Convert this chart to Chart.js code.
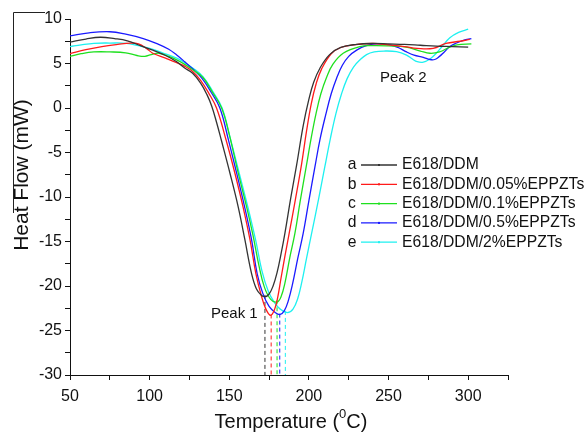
<!DOCTYPE html>
<html>
<head>
<meta charset="utf-8">
<script src="https://cdn.jsdelivr.net/npm/chart.js@4.4.1/dist/chart.umd.min.js"></script>
<style>
  html, body { margin: 0; padding: 0; background: #fff; }
  #wrap { width: 585px; height: 432px; }
</style>
</head>
<body>
<div id="wrap"><canvas id="dsc"></canvas></div>
<script>
// DSC curves, temperature (C) vs heat flow (mW)
const seriesTags = ['a', 'b', 'c', 'd', 'e'];
const seriesNames = ['E618/DDM', 'E618/DDM/0.05%EPPZTs', 'E618/DDM/0.1%EPPZTs', 'E618/DDM/0.5%EPPZTs', 'E618/DDM/2%EPPZTs'];
const seriesColors = ['#333333', '#ff1a1a', '#1ee01e', '#1a1aff', '#1ef0f0'];

const tempA = [50,60,69,78,86,95,102,110,117,122,127,132,136,139,142,145,150.4,155.6,159.8,164,167,170,172.5,175,177.5,180,182.5,185,188.5,192.3,196.4,200,203,207,213,220,230,240,250,260,270,280,290,300];
const flowA = [7.4,7.75,7.95,7.8,7.55,6.95,6.5,5.9,5.2,4.5,3.9,2.8,1.5,0.2,-1.6,-3.6,-7.3,-11.1,-14.8,-18.6,-20.3,-21.0,-21.2,-20.9,-20.0,-18.5,-16.4,-14.0,-10.2,-6.4,-2.0,1.0,2.9,4.5,6.0,6.8,7.15,7.25,7.2,7.15,7.05,6.95,6.9,6.85];

const tempB = [50,60,70,80,88,93,98,102,110,117,122,127,132,137,142,148,153.5,158.5,163,166.7,170,173,176,178.5,180.5,182.5,185,187.6,191.5,195.4,198.5,201.5,204.5,208,214,220,228,240,250,260,268,278,286,295,301];
const flowB = [6.1,6.55,6.9,7.15,7.3,7.2,6.7,6.15,5.6,5.1,4.7,4.1,3.1,1.7,0.0,-3.6,-7.3,-11.0,-14.8,-18.6,-21.0,-22.6,-23.3,-22.6,-21.2,-19.1,-16.6,-14.1,-10.3,-6.3,-2.6,0.5,2.7,4.4,6.1,6.8,7.1,7.25,7.1,6.9,6.7,6.7,7.25,7.5,7.7];

const tempC = [50,57,65,75,85,92,97,101,106,112,117,122,127,133.6,139,145.2,150,155.6,161,165,168.5,172,176,180,182.5,184.9,188,191.2,194.5,198.5,201.5,204.5,207.5,211,215,221.5,232,240,250,261,270,276,282,288,293,302];
const flowC = [5.8,6.1,6.3,6.3,6.2,5.9,5.8,6.0,6.15,5.8,5.4,4.9,4.3,3.4,1.9,0.0,-3.0,-7.3,-11.2,-14.4,-17.6,-20.1,-21.5,-21.8,-21.2,-19.7,-16.8,-14.1,-10.5,-6.4,-3.3,-0.6,1.6,3.4,4.9,6.15,6.9,7.0,6.97,6.85,6.4,6.15,6.3,6.8,7.1,7.2];

const tempD = [50,62,75,85,96,105,112,117,122,127,133,138.5,144.1,149.5,154.6,159.5,164,167.5,171,175,179,182,184.5,187,189.7,193,196.4,200,203.8,207,210.5,214,217.5,221,225,230,236,242.5,250.8,256,261.3,266,271.8,276,279,282,285,288.5,292.7,297,302];
const flowD = [8.1,8.45,8.57,8.3,7.8,7.2,6.6,5.95,5.2,4.4,3.3,1.8,0.0,-3.6,-7.3,-11.0,-14.8,-18.6,-20.8,-22.3,-23.0,-23.2,-22.8,-21.7,-19.8,-16.9,-14.1,-10.4,-6.6,-3.5,-0.8,1.6,3.4,4.8,5.8,6.5,7.0,7.2,7.1,6.8,6.3,5.95,5.7,5.45,5.45,5.8,6.3,6.9,7.3,7.6,7.8];

const tempE = [50,57,65,75,85.5,93,100,108,117,122,127,133.6,139.5,145.5,150.5,156.2,161.5,166.5,170.5,174.5,178.5,182,186.5,190,193,195.5,198.5,201.7,206,210,213.5,217,220.5,224,228,232,236.2,241,247,255,261.3,265,268,271.8,276,280,284,288.5,294,300];
const flowE = [6.9,7.1,7.27,7.3,7.27,7.0,6.7,6.2,5.6,5.1,4.5,3.5,1.9,0.0,-3.3,-7.3,-11.0,-14.8,-18.3,-20.6,-21.9,-22.6,-23.0,-22.6,-21.4,-19.6,-16.9,-14.1,-10.3,-6.6,-3.4,-0.6,1.6,3.3,4.6,5.4,6.0,6.3,6.4,6.33,5.95,5.5,5.2,5.15,5.5,6.15,7.0,7.9,8.5,8.85];

// Peak 1 position of each curve (dashed drop lines)
const peakTemps = [172.4, 176.3, 180.0, 181.7, 185.2];
const peakFlows = [-21.0, -23.2, -21.6, -23.1, -22.8];

const temps = [tempA, tempB, tempC, tempD, tempE];
const flows = [flowA, flowB, flowC, flowD, flowE];

const FONT = "'Liberation Sans', Arial, sans-serif";

function pts(xs, ys) {
  return xs.map((x, i) => ({ x: x, y: ys[i] }));
}

const datasets = [];
for (let i = 0; i < 5; i++) {
  datasets.push({
    label: seriesNames[i],
    data: pts(temps[i], flows[i]),
    borderColor: seriesColors[i],
    borderWidth: 1.3,
    pointRadius: 0,
    tension: 0.4,
    fill: false
  });
}
for (let i = 0; i < 5; i++) {
  datasets.push({
    label: 'peak-' + seriesTags[i],
    data: [{ x: peakTemps[i], y: peakFlows[i] }, { x: peakTemps[i], y: -30 }],
    borderColor: seriesColors[i],
    borderWidth: 1,
    borderDash: [4, 3],
    pointRadius: 0,
    fill: false
  });
}

const annotate = {
  id: 'annotate',
  afterDraw(chart) {
    const ctx = chart.ctx;
    ctx.save();
    ctx.fillStyle = '#111';
    ctx.textBaseline = 'middle';

    // legend
    ctx.font = '15.7px ' + FONT;
    for (let i = 0; i < 5; i++) {
      const y = 165 + i * 19.3;
      ctx.fillStyle = '#111';
      ctx.textAlign = 'center';
      ctx.fillText(seriesTags[i], 352, y);
      ctx.strokeStyle = seriesColors[i];
      ctx.lineWidth = 1.3;
      ctx.beginPath();
      ctx.moveTo(361, y);
      ctx.lineTo(397, y);
      ctx.stroke();
      ctx.fillStyle = seriesColors[i];
      ctx.fillRect(378, y - 1, 2, 2);
      ctx.fillStyle = '#111';
      ctx.textAlign = 'left';
      ctx.fillText(seriesNames[i], 402, y);
    }

    // peak labels
    ctx.font = '15px ' + FONT;
    ctx.fillText('Peak 1', 211, 314);
    ctx.fillText('Peak 2', 380, 78);

    // x title with superscript
    ctx.font = '20px ' + FONT;
    const a = 'Temperature (', c = 'C)';
    const wa = ctx.measureText(a).width;
    ctx.font = '13px ' + FONT;
    const ws = ctx.measureText('0').width;
    ctx.font = '20px ' + FONT;
    const wc = ctx.measureText(c).width;
    let x0 = 291 - (wa + ws + wc) / 2;
    ctx.textBaseline = 'alphabetic';
    ctx.fillText(a, x0, 428);
    ctx.font = '13px ' + FONT;
    ctx.fillText('0', x0 + wa, 418);
    ctx.font = '20px ' + FONT;
    ctx.fillText(c, x0 + wa + ws, 428);

    // y title
    ctx.translate(22, 175);
    ctx.rotate(-Math.PI / 2);
    ctx.textAlign = 'center';
    ctx.textBaseline = 'middle';
    ctx.font = '21px ' + FONT;
    ctx.fillText('Heat Flow (mW)', 0, 0);
    ctx.restore();

    // crop bracket at top-left of the figure
    ctx.save();
    ctx.strokeStyle = '#222';
    ctx.lineWidth = 1;
    ctx.beginPath();
    ctx.moveTo(13.5, 213);
    ctx.lineTo(13.5, 12.5);
    ctx.lineTo(45, 12.5);
    ctx.stroke();
    ctx.restore();
  }
};

new Chart(document.getElementById('dsc'), {
  type: 'line',
  data: { datasets: datasets },
  options: {
    responsive: true,
    maintainAspectRatio: false,
    animation: false,
    layout: { padding: { top: 19, right: 77, left: 0, bottom: 0 } },
    plugins: { legend: { display: false }, tooltip: { enabled: false } },
    scales: {
      x: {
        type: 'linear',
        min: 50,
        max: 325,
        afterBuildTicks: s => { s.ticks = []; for (let v = 50; v <= 325; v += 25) s.ticks.push({ value: v }); },
        afterFit: s => { s.height = 57; },
        ticks: {
          autoSkip: false,
          maxRotation: 0,
          padding: 7,
          color: '#111',
          font: { family: FONT, size: 16 },
          callback: v => (v % 50 === 0 && v <= 300) ? v : ''
        },
        grid: { drawOnChartArea: false, tickLength: 5, tickColor: '#111' },
        border: { color: '#111', width: 1 }
      },
      y: {
        min: -30,
        max: 10,
        afterBuildTicks: s => { s.ticks = []; for (let v = -30; v <= 10; v += 2.5) s.ticks.push({ value: v }); },
        afterFit: s => { s.width = 70; },
        ticks: {
          autoSkip: false,
          padding: 3,
          color: '#111',
          font: { family: FONT, size: 16 },
          callback: v => (v % 5 === 0) ? v : ''
        },
        grid: { drawOnChartArea: false, tickLength: 5, tickColor: '#111' },
        border: { color: '#111', width: 1 }
      }
    }
  },
  plugins: [annotate]
});
</script>
</body>
</html>
